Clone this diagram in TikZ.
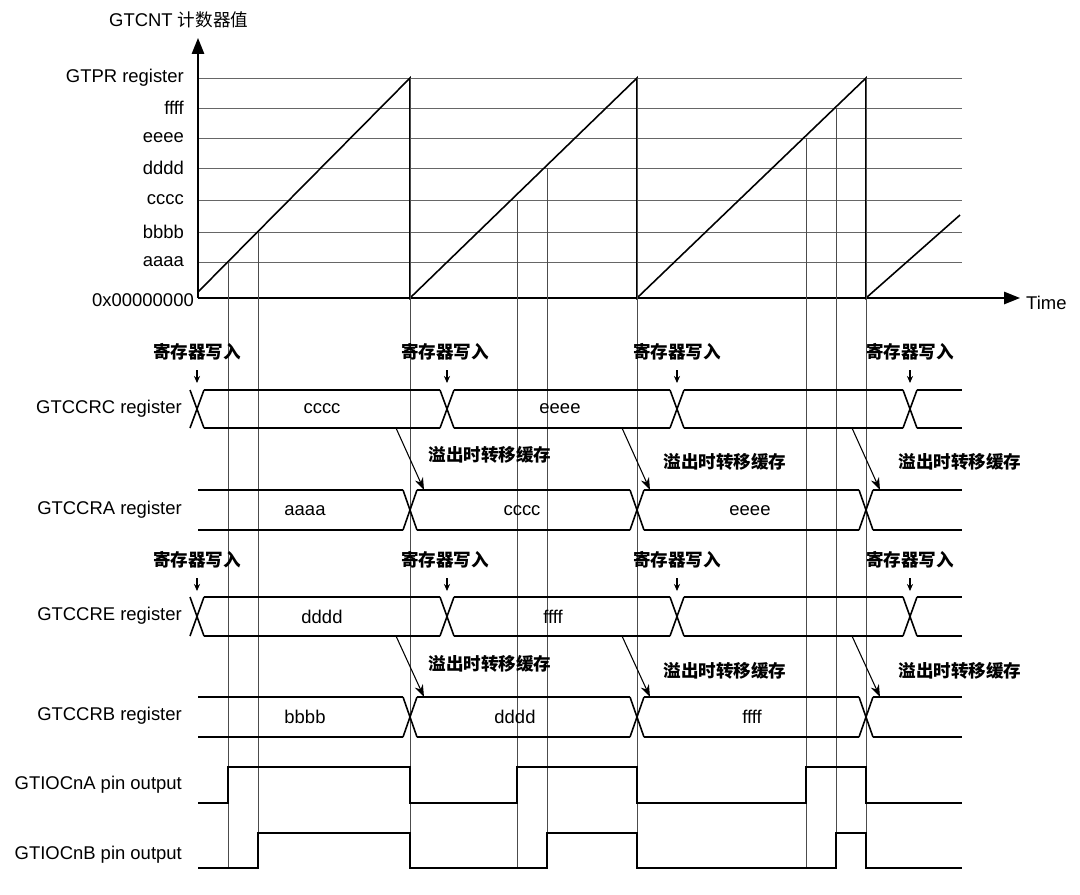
\documentclass[tikz,border=0pt]{standalone}
\usepackage{fontspec}
\setmainfont{Liberation Sans}
\newfontfamily\cjk{Noto Sans CJK SC}
\usetikzlibrary{arrows.meta}
\tikzset{
 lbl/.style={anchor=east,font=\fontsize{10.5}{12}\selectfont},
 val/.style={font=\fontsize{10.5}{12}\selectfont},
 cn/.style={font=\cjk\bfseries\fontsize{10}{12}\selectfont},
 wave/.style={line width=0.9pt},
 grid/.style={line width=0.4pt,black!60},
 vl/.style={line width=0.4pt,black!70},
 tr/.style={line width=0.6pt,-{Stealth[length=7pt,width=5pt]}},
 wr/.style={line width=0.6pt,-{Stealth[length=4pt,width=3.5pt]}}
}
\begin{document}
\begin{tikzpicture}[x=0.02cm,y=-0.02cm]
\useasboundingbox (0,0) rectangle (1080,894);
% grid
\foreach \y/\t in {78/GTPR register,108/ffff,138/eeee,168/dddd,200/cccc,232/bbbb,262/aaaa}{
 \draw[grid] (198,\y)--(962,\y);
 \node[lbl] at (190,\y) {\t};}
\node[lbl] (zero) at (200,300) {0x00000000};
\draw[line width=0.9pt,-{Triangle[length=9pt,width=7pt]}] (198,298)--(198,38);
\draw[line width=0.9pt,-{Triangle[length=9pt,width=7pt]}] (198,298)--(1020,298);
\node[val,anchor=west] (time) at (1020,303) {Time};
\node[val,anchor=west] (ytitle) at (103,20) {GTCNT {\cjk\fontsize{10}{12}\selectfont 计数器值}};
% sawtooth
\draw[wave] (198,292)--(410,78)--(410,298)--(637,78)--(637,298)--(866,78)--(866,298)--(960,215);
% vertical lines
\foreach \x/\y in {228/262,258/232,517/200,547/168,806/138,836/108}{\draw[vl] (\x,\y)--(\x,868);}
\foreach \x in {410,637,866}{\draw[vl] (\x,78)--(\x,868);}
% buses
\newcommand\crs[3]{\draw[wave] (#1-7,#2)--(#1+7,#3) (#1-7,#3)--(#1+7,#2);}
% GTCCRC
\foreach \a/\b in {204/440,454/670,684/903,917/962}{\draw[wave] (\a,390)--(\b,390) (\a,428)--(\b,428);}
\foreach \x in {197,447,677,910}{\crs{\x}{390}{428}}
% GTCCRE
\foreach \a/\b in {204/440,454/670,684/903,917/962}{\draw[wave] (\a,597)--(\b,597) (\a,636)--(\b,636);}
\foreach \x in {197,447,677,910}{\crs{\x}{597}{636}}
% GTCCRA / GTCCRB
\foreach \t/\bb in {490/530,697/737}{
 \foreach \a/\b in {198/403,417/630,644/859,873/962}{\draw[wave] (\a,\t)--(\b,\t) (\a,\bb)--(\b,\bb);}
 \foreach \x in {410,637,866}{\crs{\x}{\t}{\bb}}}
% labels of rows
\node[lbl] (rc) at (188,409) {GTCCRC register};
\node[lbl] (ra) at (188,510) {GTCCRA register};
\node[lbl] (re) at (188,616) {GTCCRE register};
\node[lbl] (rb) at (188,716) {GTCCRB register};
\node[lbl] (pa) at (188,785) {GTIOCnA pin output};
\node[lbl] (pb) at (188,855) {GTIOCnB pin output};
% values
\node[val] at (322,409) {cccc}; \node[val] at (560,409) {eeee};
\node[val] at (305,511) {aaaa}; \node[val] at (522,511) {cccc}; \node[val] at (750,511) {eeee};
\node[val] at (322,617) {dddd}; \node[val] at (553,617) {ffff};
\node[val] at (305,717) {bbbb}; \node[val] at (515,717) {dddd}; \node[val] at (752,717) {ffff};
% write labels and arrows
\foreach \y/\ay in {352/370,560/578}{
 \foreach \x/\lx in {197/197,447/445,677/677,910/910}{
  \node[cn] at (\lx,\y) {寄存器写入};
  \coordinate (s) at (\x,\ay); \coordinate (e) at (\x,\ay+13);
  \draw[wr] (s)--(e);}}
% transfer arrows
\foreach \t/\b/\da in {428/490/0,636/697/209}{
 \foreach \x/\lx/\ly in {396/490/455,622/725/462,852/960/462}{
  \coordinate (s) at (\x,\t); \coordinate (e) at (\x+28,\b);
  \draw[tr] (s)--(e);
  \node[cn] at (\lx,\ly+\da) {溢出时转移缓存};}}
% pin outputs
\draw[wave] (198,803)--(228,803)--(228,767)--(410,767)--(410,803)--(517,803)--(517,767)--(637,767)--(637,803)--(806,803)--(806,767)--(866,767)--(866,803)--(962,803);
\draw[wave] (198,868)--(258,868)--(258,833)--(410,833)--(410,868)--(547,868)--(547,833)--(637,833)--(637,868)--(836,868)--(836,833)--(866,833)--(866,868)--(962,868);
\end{tikzpicture}
\end{document}
